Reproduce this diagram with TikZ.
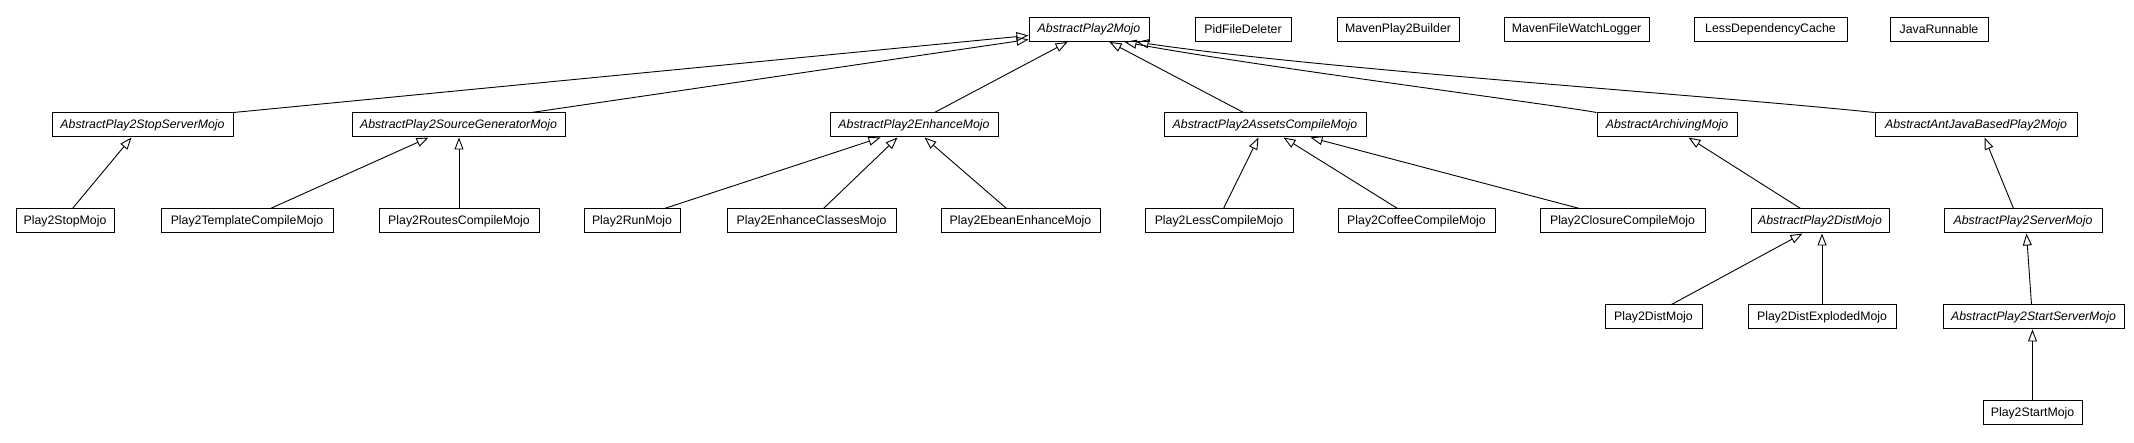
\documentclass[tikz,border=0pt]{standalone}
\usepackage{fontspec}
\setmainfont{Liberation Sans}
\usetikzlibrary{arrows.meta,calc}
\tikzset{
  cls/.style={draw, line width=1pt, minimum height=24pt, inner sep=0pt, font=\fontsize{12.3}{14}\selectfont, anchor=center, fill=white},
  abs/.style={cls, font=\fontsize{12.3}{14}\selectfont\itshape},
  inh/.style={line width=0.9pt, -{Triangle[open, length=12pt, width=9pt, line width=0.9pt]}}
}
\begin{document}
\begin{tikzpicture}[x=1pt, y=-1pt]
\useasboundingbox (0,0) rectangle (2134,443);
% row 0
\node[abs, minimum width=120pt] (A0) at (1089,29.5) {AbstractPlay2Mojo};
\node[cls, minimum width=96pt] (pid) at (1243,29.5) {PidFileDeleter};
\node[cls, minimum width=122pt] (mpb) at (1398,29.5) {MavenPlay2Builder};
\node[cls, minimum width=145pt] (mfw) at (1576.5,29.5) {MavenFileWatchLogger};
\node[cls, minimum width=153pt] (ldc) at (1770.5,29.5) {LessDependencyCache};
\node[cls, minimum width=98pt] (jr) at (1939,29.5) {JavaRunnable};
% row 1
\node[abs, minimum width=181pt] (stopsrv) at (142.5,125) {AbstractPlay2StopServerMojo};
\node[abs, minimum width=213pt] (srcgen) at (458.5,125) {AbstractPlay2SourceGeneratorMojo};
\node[abs, minimum width=168pt] (enh) at (914,125) {AbstractPlay2EnhanceMojo};
\node[abs, minimum width=202pt] (assets) at (1265,125) {AbstractPlay2AssetsCompileMojo};
\node[abs, minimum width=140pt] (arch) at (1667,125) {AbstractArchivingMojo};
\node[abs, minimum width=202pt] (ant) at (1976,125) {AbstractAntJavaBasedPlay2Mojo};
% row 2
\node[cls, minimum width=98pt] (stop) at (65,221) {Play2StopMojo};
\node[cls, minimum width=172pt] (tmpl) at (247,221) {Play2TemplateCompileMojo};
\node[cls, minimum width=160pt] (routes) at (459,221) {Play2RoutesCompileMojo};
\node[cls, minimum width=96pt] (run) at (632,221) {Play2RunMojo};
\node[cls, minimum width=169pt] (encl) at (811.5,221) {Play2EnhanceClassesMojo};
\node[cls, minimum width=159pt] (ebean) at (1020.5,221) {Play2EbeanEnhanceMojo};
\node[cls, minimum width=148pt] (less) at (1219,221) {Play2LessCompileMojo};
\node[cls, minimum width=157pt] (coffee) at (1416.5,221) {Play2CoffeeCompileMojo};
\node[cls, minimum width=165pt] (closure) at (1622.5,221) {Play2ClosureCompileMojo};
\node[abs, minimum width=138pt] (dist) at (1820,221) {AbstractPlay2DistMojo};
\node[abs, minimum width=158pt] (server) at (2023,221) {AbstractPlay2ServerMojo};
% row 3
\node[cls, minimum width=97pt] (distm) at (1653.5,317) {Play2DistMojo};
\node[cls, minimum width=148pt] (expl) at (1822,317) {Play2DistExplodedMojo};
\node[abs, minimum width=181pt] (startsrv) at (2033.5,317) {AbstractPlay2StartServerMojo};
% row 4
\node[cls, minimum width=99pt] (start) at (2032.5,413) {Play2StartMojo};
% edges to AbstractPlay2Mojo
\draw[inh] (stopsrv.north east) -- ($(A0.west)+(0,6)$);
\draw[inh] ($(srcgen.north west)+(180,0)$) -- ($(A0.west)+(0,10)$);
\draw[inh] ($(enh.north west)+(105,0)$) -- ($(A0.south west)+(39,0)$);
\draw[inh] ($(assets.north west)+(80,0)$) -- ($(A0.south west)+(81,0)$);
\draw[inh] (arch.north west) .. controls +(-37,-7) and +(123,23) .. ($(A0.south west)+(96,0)$);
\draw[inh] (ant.north west) .. controls +(-175,-18) and +(183,27) .. ($(A0.south west)+(108,0)$);
% row 2 edges
\draw[inh] ($(stop.north west)+(57,0)$) -- ($(stopsrv.south west)+(80,0)$);
\draw[inh] ($(tmpl.north west)+(110,0)$) -- ($(srcgen.south west)+(77,0)$);
\draw[inh] (routes.north) -- (routes.north |- srcgen.south);
\draw[inh] ($(run.north west)+(81,0)$) -- ($(enh.south west)+(51,0)$);
\draw[inh] ($(encl.north west)+(97,0)$) -- ($(enh.south west)+(68,0)$);
\draw[inh] ($(ebean.north west)+(66,0)$) -- ($(enh.south west)+(95,0)$);
\draw[inh] ($(less.north west)+(79,0)$) -- ($(assets.south west)+(95,0)$);
\draw[inh] ($(coffee.north west)+(60,0)$) -- ($(assets.south west)+(120,0)$);
\draw[inh] ($(closure.north west)+(40,0)$) -- ($(assets.south west)+(147,0)$);
\draw[inh] ($(dist.north west)+(50,0)$) -- ($(arch.south west)+(92,0)$);
\draw[inh] ($(server.north west)+(70,0)$) -- ($(ant.south west)+(110,0)$);
% row 3 edges
\draw[inh] ($(distm.north west)+(67,0)$) -- ($(dist.south west)+(52,0)$);
\draw[inh] (expl.north) -- (expl.north |- dist.south);
\draw[inh] ($(startsrv.north west)+(89,0)$) -- ($(server.south west)+(83,0)$);
% row 4 edge
\draw[inh] (start.north) -- (start.north |- startsrv.south);
\end{tikzpicture}
\end{document}
